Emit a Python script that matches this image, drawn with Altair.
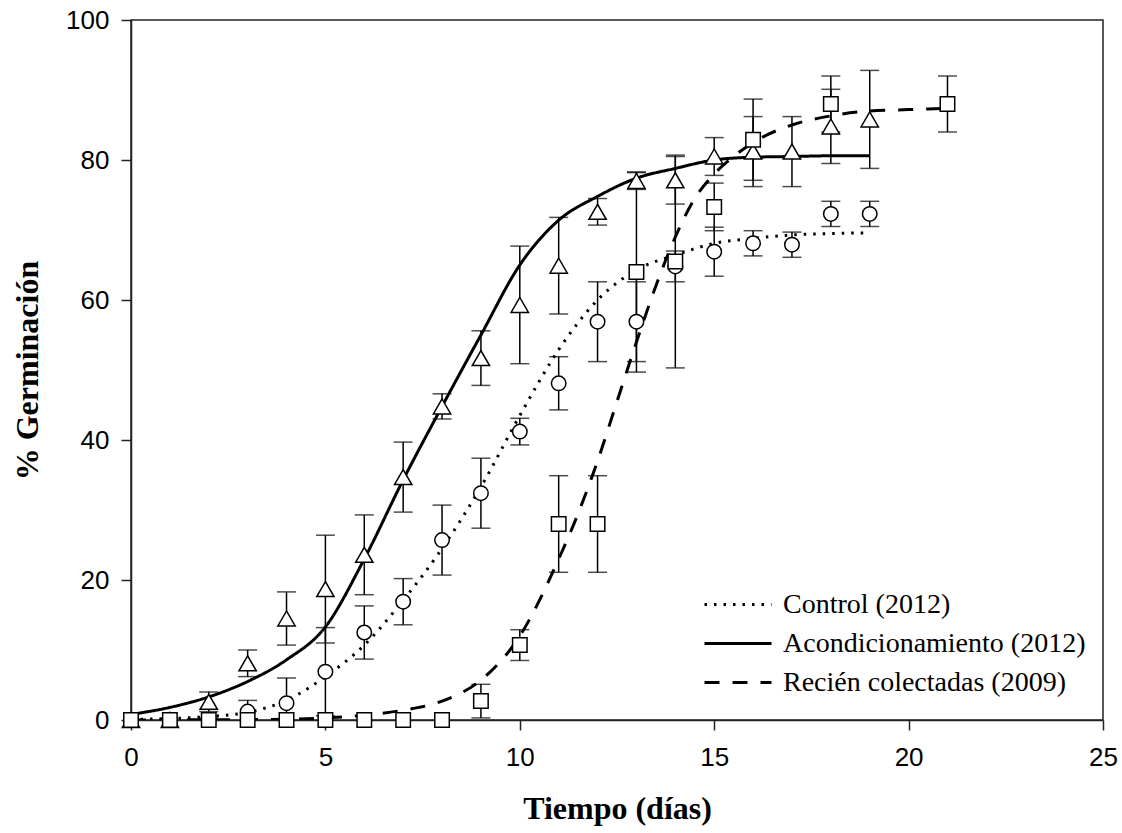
import altair as alt
import pandas as pd

# ---- observed data (mean ± error) ----
control_days = list(range(0, 20))
control_vals = [0, 0, 0, 1.2, 2.4, 6.9, 12.5, 16.9, 25.7, 32.4, 41.2, 48.1, 56.9, 56.9, 64.8, 66.9, 68.1, 67.9, 72.3, 72.3]
control_err = [0, 0, 0.3, 1.6, 3.6, 6.3, 3.8, 3.3, 5.0, 5.0, 1.9, 3.8, 5.7, 5.7, 2.2, 3.5, 1.8, 1.8, 1.8, 1.8]

acond_days = list(range(0, 20))
acond_vals = [0, 0, 2.6, 8.1, 14.5, 18.7, 23.6, 34.7, 44.8, 51.7, 59.3, 64.9, 72.6, 77.0, 77.1, 80.5, 81.2, 81.2, 84.8, 85.8]
acond_err = [0, 0, 1.4, 1.9, 3.8, 7.7, 5.7, 5.0, 1.8, 3.9, 8.4, 6.9, 1.9, 1.2, 3.4, 2.7, 5.0, 5.0, 5.3, 7.0]

recien_days = [0, 1, 2, 3, 4, 5, 6, 7, 8, 9, 10, 11, 12, 13, 14, 15, 16, 18, 21]
recien_vals = [0, 0, 0, 0, 0, 0, 0, 0, 0, 2.7, 10.7, 28.0, 28.0, 64.0, 65.5, 73.3, 82.9, 88.0, 88.0]
recien_err = [0, 0, 0, 0, 0, 0, 0, 0, 0, 2.4, 2.2, 6.9, 6.9, 14.3, 15.2, 3.4, 5.8, 4.0, 4.0]

# ---- fitted curves ----
control_fit_x = list(range(0, 20))
control_fit_y = [0.1, 0.2, 0.5, 1.1, 2.8, 6.2, 10.7, 17.1, 24.5, 33.3, 43.5, 52.9, 60.0, 64.3, 66.4, 68.1, 68.8, 69.3, 69.5, 69.6]

acond_fit_x = list(range(0, 20))
acond_fit_y = [0.8, 1.8, 3.3, 5.5, 8.6, 13.3, 23.0, 34.3, 44.8, 55.0, 65.0, 71.4, 74.8, 77.4, 78.8, 80.0, 80.4, 80.5, 80.6, 80.6]

recien_fit_x = [0, 4, 5, 6, 7, 8, 9, 10, 11, 11.5, 12, 12.5, 13, 13.5, 14, 14.5, 15, 15.5, 16, 17, 18, 19, 20, 21]
recien_fit_y = [0, 0.1, 0.3, 0.7, 1.4, 2.7, 5.7, 12.0, 23.0, 29.5, 37.0, 45.5, 54.0, 62.0, 69.0, 74.5, 78.0, 80.5, 82.5, 85.0, 86.3, 87.0, 87.2, 87.4]

series_names = ["Control (2012)", "Acondicionamiento (2012)", "Recién colectadas (2009)"]
series_shapes = ["circle", "triangle-up", "square"]
series_sizes = [210, 300, 210]
x_ticks = [0, 5, 10, 15, 20, 25]
y_ticks = [0, 20, 40, 60, 80, 100]

# ---- tables ----
rows = []
for name, d, v, e in [
    (series_names[0], control_days, control_vals, control_err),
    (series_names[1], acond_days, acond_vals, acond_err),
    (series_names[2], recien_days, recien_vals, recien_err),
]:
    for di, vi, ei in zip(d, v, e):
        rows.append({"dia": di, "valor": vi, "err": ei, "grupo": name,
                     "lo": vi - ei, "hi": vi + ei})
pts = pd.DataFrame(rows)
errs = pts[pts["err"] > 0]

fit_rows = []
for name, fx, fy in [
    (series_names[0], control_fit_x, control_fit_y),
    (series_names[1], acond_fit_x, acond_fit_y),
    (series_names[2], recien_fit_x, recien_fit_y),
]:
    for xi, yi in zip(fx, fy):
        fit_rows.append({"dia": xi, "valor": yi, "serie": name})
fits = pd.DataFrame(fit_rows)

xscale = alt.Scale(domain=[0, 25], nice=False, zero=False)
yscale = alt.Scale(domain=[0, 100], nice=False)

xaxis = alt.Axis(values=x_ticks, title="Tiempo (días)", grid=False,
                 tickSize=10, labelPadding=14, labelFlush=False,
                 titleX=486, titleY=88,
                 titleBaseline="middle", titleAlign="center")
yaxis = alt.Axis(values=y_ticks, title="% Germinación", grid=False,
                 tickSize=10, labelPadding=12, labelFlush=False,
                 titleX=-104, titleY=350,
                 titleAngle=270, titleBaseline="middle", titleAlign="center")

lines = alt.Chart(fits).mark_line(color="black", strokeWidth=3,
                                  interpolate="monotone", clip=True).encode(
    x=alt.X("dia:Q", scale=xscale, axis=xaxis),
    y=alt.Y("valor:Q", scale=yscale, axis=yaxis),
    strokeDash=alt.StrokeDash(
        "serie:N",
        scale=alt.Scale(domain=series_names, range=[[2.5, 7], [1, 0], [15, 13]]),
        sort=series_names,
        legend=alt.Legend(title=None, orient="none", legendX=572, legendY=565,
                          symbolType="stroke", symbolSize=4489,
                          symbolStrokeWidth=3, symbolStrokeColor="black",
                          labelFont="Liberation Serif", labelFontSize=28,
                          labelColor="black", labelOffset=10, rowPadding=0,
                          clipHeight=39, labelLimit=0, padding=0),
    ),
)

bars = alt.Chart(errs).mark_rule(color="black", strokeWidth=1.5, clip=True).encode(
    x=alt.X("dia:Q", scale=xscale),
    y=alt.Y("lo:Q", scale=yscale),
    y2="hi:Q",
)
cap_hi = alt.Chart(errs).mark_tick(color="black", thickness=1.5, size=19,
                                   orient="horizontal", clip=True).encode(
    x=alt.X("dia:Q", scale=xscale),
    y=alt.Y("hi:Q", scale=yscale),
)
cap_lo = alt.Chart(errs).mark_tick(color="black", thickness=1.5, size=19,
                                   orient="horizontal", clip=True).encode(
    x=alt.X("dia:Q", scale=xscale),
    y=alt.Y("lo:Q", scale=yscale),
)

point_layers = []
for name, shp, sz in zip(series_names, series_shapes, series_sizes):
    point_layers.append(
        alt.Chart(pts[pts["grupo"] == name]).mark_point(
            shape=shp, size=sz, filled=True, fill="white", stroke="black",
            strokeWidth=1.5, opacity=1).encode(
            x=alt.X("dia:Q", scale=xscale),
            y=alt.Y("valor:Q", scale=yscale),
        )
    )

chart = alt.layer(lines, bars, cap_hi, cap_lo, *point_layers).properties(
    width=972, height=700,
    autosize=alt.AutoSizeParams(type="none"),
    padding={"left": 131, "top": 20, "right": 19, "bottom": 113},
    background="white",
).configure_view(
    stroke="#222222", strokeWidth=1.5
).configure_axis(
    domainColor="#222222", domainWidth=1.5, tickColor="#222222", tickWidth=1.5,
    labelFont="Liberation Sans", labelFontSize=26, labelColor="black",
    titleFont="Liberation Serif", titleFontSize=32, titleFontWeight="bold",
    titleColor="black",
)

chart.save("out.html", embed_options={"renderer": "svg", "actions": False})
